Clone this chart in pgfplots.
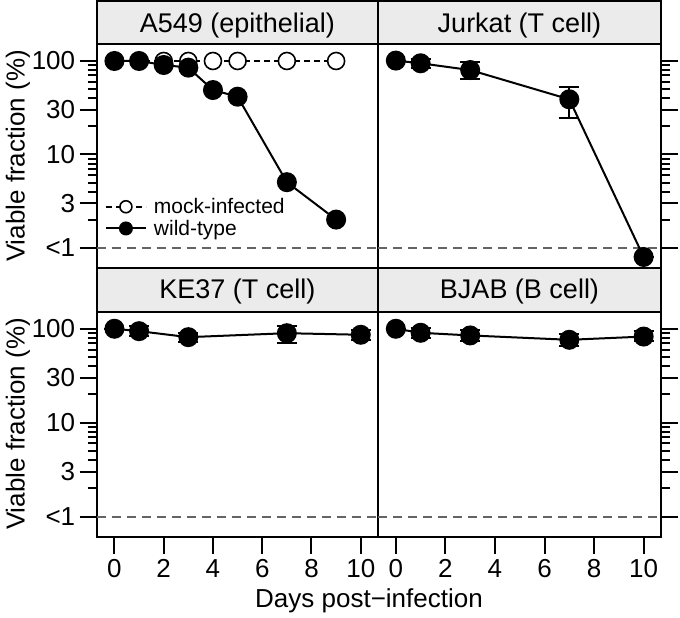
\documentclass[border=0pt]{standalone}
\usepackage{pgfplots}
\pgfplotsset{compat=1.18}
\usepackage{fontspec}
\setmainfont{Liberation Sans}
\definecolor{stripgray}{RGB}{235,235,235}
\definecolor{refgray}{RGB}{100,100,100}
\newcommand{\mainfs}{\fontsize{26}{30}\selectfont}
\newcommand{\stripfs}{\fontsize{27}{31}\selectfont}
\newcommand{\legfs}{\fontsize{21}{24}\selectfont}

\pgfplotsset{
  legend image code/.code={\draw[mark repeat=2, mark phase=2, #1] plot coordinates {(0pt,0pt) (20pt,0pt) (40pt,0pt)};},
  vfpanel/.style={
    scale only axis, anchor=south west, clip=false,
    xmin=-0.72, xmax=10.7,
    ymin=0.61, ymax=152,
    axis line style={line width=2pt},
    tick style={black, line width=2pt},
    tick align=outside,
    major tick length=17pt, minor tick length=9pt,
    ytick={1,3,10,30,100},
    minor ytick={2,4,5,6,7,8,9,20,40,50,60,70,80,90},
    yticklabels={<1,3,10,30,100},
    xtick={0,2,4,6,8,10},
    xticklabels={0,2,4,6,8,10},
    tick label style={font=\mainfs},
    xticklabel style={yshift=-2pt},
    yticklabel style={xshift=-1pt},
  },
  vftop/.style={xmajorticks=false, xminorticks=false},
  vfbot/.style={xtick pos=bottom},
  vfleft/.style={ytick pos=left},
  vfright/.style={ytick pos=right, yticklabels={}},
  vfref/.style={refgray, line width=2pt, dash pattern=on 9pt off 6pt, forget plot},
  vfwt/.style={black, line width=2pt, mark=*, mark size=9pt, mark options={solid, fill=black}},
}

\pgfplotstableread{
x y
0 100
1 100
2 100
3 100
4 100
5 100
7 100
9 100
}\mockA
\pgfplotstableread{
x y
0 100
1 100
2 90.6
3 84.9
4 48.9
5 41.5
7 5.05
9 2.01
}\wtA
\pgfplotstableread{
x y ep em
0 101 0 0
1 94.5 9.5 9.5
3 80 17.6 15.3
7 38.9 14.3 14.2
10 0.8 0 0
}\jurkat
\pgfplotstableread{
x y ep em
0 100 0 0
1 94.3 11.5 9.7
3 81.4 8.3 9.4
7 89.7 18.3 18.7
10 86.3 11.2 9.8
}\keth
\pgfplotstableread{
x y ep em
0 100 0 0
1 90.6 10.9 10.6
3 84.9 12.6 11.4
7 76.3 12.1 10.4
10 82.6 11.7 9.2
}\bjab

\begin{document}
\begin{tikzpicture}
\useasboundingbox (0,0) rectangle (680pt,618pt);

% top-left
\begin{axis}[ymode=log, vfpanel, vftop, vfleft, at={(96.7pt,350pt)}, width=281.3pt, height=224pt,
  legend style={at={(rel axis cs:0.025,0.325)}, anchor=north west, draw=none, fill=none,
    font=\legfs, row sep=1pt, column sep=5pt, inner sep=1pt},
  legend cell align=left,
  legend image post style={mark size=6pt},
]
\draw[fill=stripgray, line width=2pt] (rel axis cs:0,1) rectangle (rel axis cs:1,1.192);
\node[font=\stripfs, anchor=base] at (rel axis cs:0.5,1.052) {A549 (epithelial)};
\addplot[vfref] coordinates {(-0.72,1) (10.7,1)};
\addplot[black, line width=1.6pt, dash pattern=on 6pt off 4pt, mark=*, mark size=8.5pt,
  mark options={solid, fill=white, line width=1.6pt}] table[x=x, y=y] {\mockA};
\addlegendentry{mock-infected}
\addplot[vfwt] table[x=x, y=y] {\wtA};
\addlegendentry{wild-type}
\end{axis}

% top-right
\begin{axis}[ymode=log, vfpanel, vftop, vfright, at={(378pt,350pt)}, width=283pt, height=224pt]
\draw[fill=stripgray, line width=2pt] (rel axis cs:0,1) rectangle (rel axis cs:1,1.192);
\node[font=\stripfs, anchor=base] at (rel axis cs:0.5,1.052) {Jurkat (T cell)};
\addplot[vfref] coordinates {(-0.72,1) (10.7,1)};
\addplot[forget plot, only marks, mark=none,
  error bars/.cd, y dir=both, y explicit,
  error bar style={black, line width=2pt, solid},
  error mark options={rotate=90, black, line width=2pt, mark size=10pt}]
  table[x=x, y=y, y error plus=ep, y error minus=em] {\jurkat};
\addplot[vfwt] table[x=x, y=y] {\jurkat};
\end{axis}

% bottom-left
\begin{axis}[ymode=log, vfpanel, vfbot, vfleft, at={(96.7pt,81.3pt)}, width=281.3pt, height=225pt]
\draw[fill=stripgray, line width=2pt] (rel axis cs:0,1) rectangle (rel axis cs:1,1.194);
\node[font=\stripfs, anchor=base] at (rel axis cs:0.5,1.06) {KE37 (T cell)};
\addplot[vfref] coordinates {(-0.72,1) (10.7,1)};
\addplot[forget plot, only marks, mark=none,
  error bars/.cd, y dir=both, y explicit,
  error bar style={black, line width=2pt, solid},
  error mark options={rotate=90, black, line width=2pt, mark size=10pt}]
  table[x=x, y=y, y error plus=ep, y error minus=em] {\keth};
\addplot[vfwt] table[x=x, y=y] {\keth};
\end{axis}

% bottom-right
\begin{axis}[ymode=log, vfpanel, vfbot, vfright, at={(378pt,81.3pt)}, width=283pt, height=225pt]
\draw[fill=stripgray, line width=2pt] (rel axis cs:0,1) rectangle (rel axis cs:1,1.194);
\node[font=\stripfs, anchor=base] at (rel axis cs:0.5,1.06) {BJAB (B cell)};
\addplot[vfref] coordinates {(-0.72,1) (10.7,1)};
\addplot[forget plot, only marks, mark=none,
  error bars/.cd, y dir=both, y explicit,
  error bar style={black, line width=2pt, solid},
  error mark options={rotate=90, black, line width=2pt, mark size=10pt}]
  table[x=x, y=y, y error plus=ep, y error minus=em] {\bjab};
\addplot[vfwt] table[x=x, y=y] {\bjab};
\end{axis}

\node[font=\mainfs, rotate=90] at (18pt,462pt) {Viable fraction (\%)};
\node[font=\mainfs, rotate=90] at (18pt,194pt) {Viable fraction (\%)};
\node[font=\mainfs] at (369pt,17pt) {Days post\textminus infection};
\end{tikzpicture}
\end{document}
